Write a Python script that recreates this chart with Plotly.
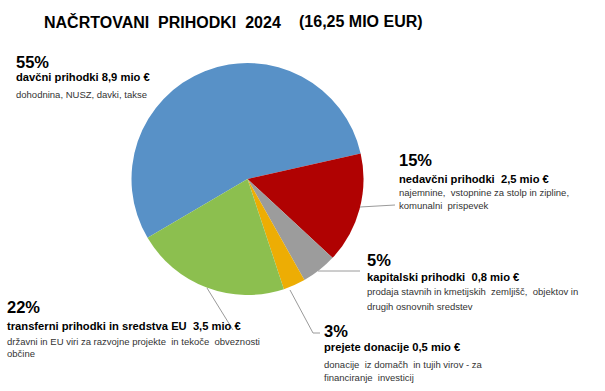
import plotly.graph_objects as go

W, H = 605, 391

# ---- data ----
categories = ["davčni prihodki", "nedavčni prihodki", "kapitalski prihodki",
              "prejete donacije", "transferni prihodki in sredstva EU"]
values_mio = [8.9, 2.5, 0.8, 0.5, 3.5]
percent_labels = ["55%", "15%", "5%", "3%", "22%"]
head_labels = ["davčni prihodki 8,9 mio €",
               "nedavčni prihodki  2,5 mio €",
               "kapitalski prihodki  0,8 mio €",
               "prejete donacije 0,5 mio €",
               "transferni prihodki in sredstva EU  3,5 mio €"]
desc_labels = [["dohodnina, NUSZ, davki, takse"],
               ["najemnine,  vstopnine za stolp in zipline,", "komunalni  prispevek"],
               ["prodaja stavnih in kmetijskih  zemljišč,  objektov in", "drugih osnovnih sredstev"],
               ["donacije  iz domačh  in tujih virov - za", "financiranje  investicij"],
               ["državni in EU viri za razvojne projekte  in tekoče  obveznosti", "občine"]]
title_parts = ["NAČRTOVANI  PRIHODKI  2024", "(16,25 MIO EUR)"]
colors = ["#5891C7", "#B00202", "#9C9C9C", "#EDAD04", "#8CBF4F"]

FONT = "Liberation Sans, Arial, sans-serif"

def px(x):
    return x / W

def py(y):
    return 1 - y / H

cx, cy, r = 247.5, 179, 116

fig = go.Figure(go.Pie(
    labels=categories, values=values_mio, sort=False, direction="clockwise",
    rotation=239.5, textinfo="none", hoverinfo="label+percent",
    marker=dict(colors=colors, line=dict(width=0)),
    domain=dict(x=[px(cx - r), px(cx + r)], y=[py(cy + r), py(cy - r)]),
    showlegend=False,
))

ann = []
# title
ann.append(dict(x=px(42), y=py(22), text="<b>" + title_parts[0] + "</b>", xanchor="left", yanchor="middle",
                font=dict(family=FONT, size=16, color="#000")))
ann.append(dict(x=px(297), y=py(22), text="<b>" + title_parts[1] + "</b>", xanchor="left", yanchor="middle",
                font=dict(family=FONT, size=16, color="#000")))

# label blocks: x, y of percent line, y of head line, y of desc lines
blocks = [
    (14, 62, 77, [94]),
    (397, 160, 179, [193, 206]),
    (365, 260, 277, [291, 306]),
    (322, 331, 347, [364, 377]),
    (5, 307, 326, [341, 353]),
]
for i, (x0, yp, yh, yds) in enumerate(blocks):
    ann.append(dict(x=px(x0), y=py(yp), text="<b>" + percent_labels[i] + "</b>", xanchor="left", yanchor="middle",
                    font=dict(family=FONT, size=16.5, color="#000")))
    ann.append(dict(x=px(x0), y=py(yh), text="<b>" + head_labels[i] + "</b>", xanchor="left", yanchor="middle",
                    font=dict(family=FONT, size=11.2, color="#000")))
    for t, yd in zip(desc_labels[i], yds):
        ann.append(dict(x=px(x0), y=py(yd), text=t, xanchor="left", yanchor="middle",
                        font=dict(family=FONT, size=9.5, color="#333")))

for a in ann:
    a.update(xref="paper", yref="paper", showarrow=False)

# leader lines
line_style = dict(color="#9a9a9a", width=1)
leaders = [
    [(360, 207), (395, 205)],
    [(318, 271), (360, 271)],
    [(207, 288), (233, 330)],
    [(290, 290), (313, 333), (320, 333)],
]
shapes = []
for pts in leaders:
    path = "M " + " L ".join(f"{px(x)} {py(y)}" for x, y in pts)
    shapes.append(dict(type="path", path=path, xref="paper", yref="paper", line=line_style))

fig.update_layout(
    width=W, height=H, margin=dict(l=0, r=0, t=0, b=0),
    paper_bgcolor="white", plot_bgcolor="white",
    annotations=ann, shapes=shapes,
)

fig.write_html("out.html", config={"displayModeBar": False},
               post_script="document.body.style.margin='0px';")
